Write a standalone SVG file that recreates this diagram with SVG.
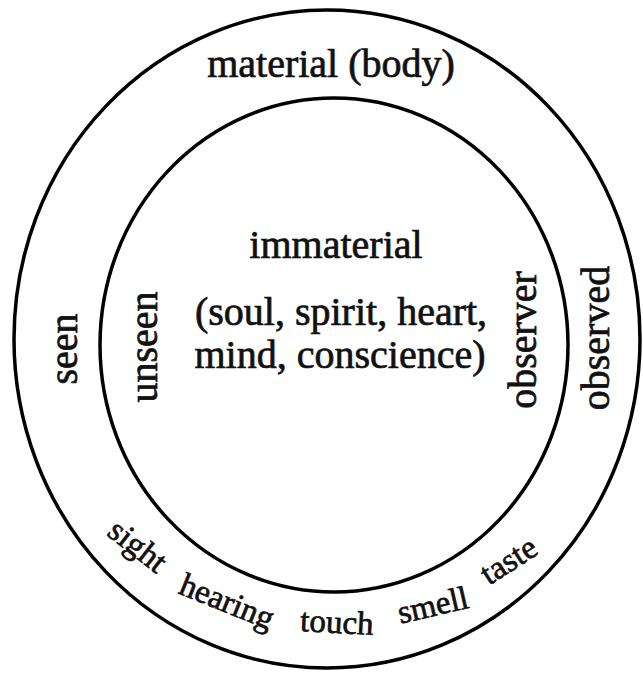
<svg xmlns="http://www.w3.org/2000/svg" width="643" height="673" viewBox="0 0 643 673">
<style>
.ring{fill:none;stroke:#000;stroke-width:3.5}
text{font-family:"Liberation Serif","Times New Roman",serif;fill:#111;stroke:#111;stroke-width:0.7}
.big{font-size:40px}
.sm{font-size:33px}
</style>
<rect width="643" height="673" fill="#fff"/>
<g id="outer">
<ellipse class="ring" cx="327" cy="339" rx="313" ry="329"/>
<text class="big" x="331" y="77" text-anchor="middle">material (body)</text>
<text class="big" transform="translate(77,349) rotate(-90)" text-anchor="middle">seen</text>
<text class="big" transform="translate(609,338) rotate(-90)" text-anchor="middle">observed</text>
</g>
<g id="inner">
<ellipse class="ring" cx="334" cy="345" rx="234" ry="247"/>
<text class="big" x="336" y="258" text-anchor="middle">immaterial</text>
<text class="big" x="341" y="325" text-anchor="middle">(soul, spirit, heart,</text>
<text class="big" x="340" y="368" text-anchor="middle">mind, conscience)</text>
<text class="big" transform="translate(157,347) rotate(-90)" text-anchor="middle">unseen</text>
<text class="big" transform="translate(536,340) rotate(-90)" text-anchor="middle">observer</text>
</g>
<g id="senses">
<text class="sm" transform="translate(136,548) rotate(38)" x="0" y="8" text-anchor="middle">sight</text>
<text class="sm" transform="translate(226,604) rotate(22)" x="0" y="8" text-anchor="middle">hearing</text>
<text class="sm" transform="translate(337,623) rotate(3)" x="0" y="10" text-anchor="middle">touch</text>
<text class="sm" transform="translate(433,606) rotate(-13)" x="0" y="10" text-anchor="middle">smell</text>
<text class="sm" transform="translate(509,561) rotate(-33)" x="0" y="10" text-anchor="middle">taste</text>
</g>
<g id="connectors"></g>
</svg>
